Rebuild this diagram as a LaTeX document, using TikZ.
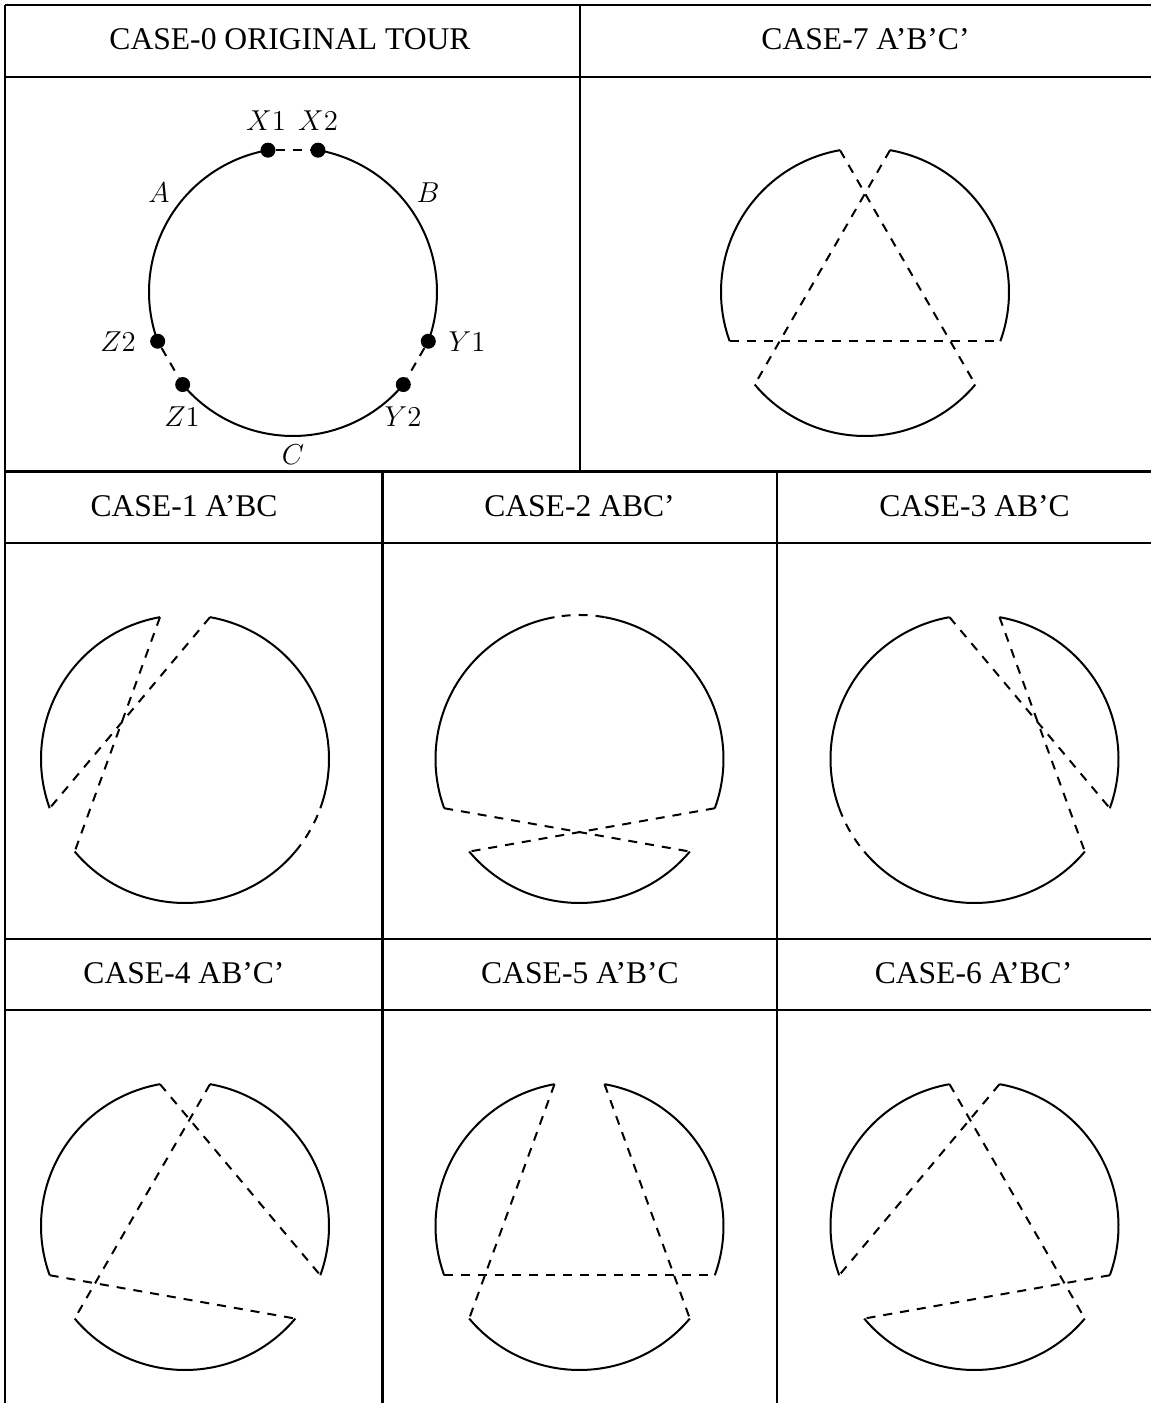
\documentclass[tikz,border=0pt]{standalone}
\usepackage[no-math]{fontspec}
\setmainfont{Liberation Serif}
\def\R{144}
% name, cx, cy : end points of the three tour segments
\newcommand\mkpts[3]{%
  \path (#2,#3) coordinate (#1c)
    +(100:\R) coordinate (#1x1) +(80:\R) coordinate (#1x2)
    +(-20:\R) coordinate (#1y1) +(-40:\R) coordinate (#1y2)
    +(220:\R) coordinate (#1z1) +(200:\R) coordinate (#1z2);}
\newcommand\mkarcs[1]{%
  \draw[seg] (#1x1) arc[start angle=100,end angle=200,radius=\R];
  \draw[seg] (#1y1) arc[start angle=-20,end angle=80,radius=\R];
  \draw[seg] (#1z1) arc[start angle=220,end angle=320,radius=\R];}
\begin{document}
\begin{tikzpicture}[x=0.5pt,y=0.5pt,
  grid/.style={line width=1.1pt},
  seg/.style={line width=1pt},
  link/.style={line width=1pt, dash pattern=on 4.5pt off 4pt},
  head/.style={anchor=base, font=\fontsize{15.8}{18}\selectfont, inner sep=0pt},
  lab/.style={anchor=base, font=\fontsize{14.3}{16}\selectfont, inner sep=0pt},
  dot/.style={circle, fill=black, inner sep=0pt, minimum size=7.5pt}]
\useasboundingbox (0,0) rectangle (1151,1403);
% ---------------- table ----------------
\draw[grid] (5,1398) -- (1151,1398);
\draw[grid] (5,1326) -- (1151,1326);
\draw[grid] (5,931.5) -- (1151,931.5);
\draw[grid] (5,860) -- (1151,860);
\draw[grid] (5,464) -- (1151,464);
\draw[grid] (5,393) -- (1151,393);
\draw[grid] (5,1398) -- (5,0);
\draw[grid] (580,1398) -- (580,931.5);
\draw[grid] (382.5,931.5) -- (382.5,0);
\draw[grid] (777,931.5) -- (777,0);
% ---------------- headers ----------------
\node[head] (h0) at (290,1353) {CASE-0 ORIGINAL TOUR};
\node[head] (h7) at (865.5,1353) {CASE-7 A'B'C'};
\node[head] (h1) at (184,886) {CASE-1 A'BC};
\node[head] (h2) at (579.5,886) {CASE-2 ABC'};
\node[head] (h3) at (974.5,886) {CASE-3 AB'C};
\node[head] (h4) at (184,419.5) {CASE-4 AB'C'};
\node[head] (h5) at (580,419.5) {CASE-5 A'B'C};
\node[head] (h6) at (973.5,419.5) {CASE-6 A'BC'};
% ---------------- case 0 ----------------
\mkpts{k0}{293}{1111}
\mkarcs{k0}
\node[dot] (X1) at (k0x1) {};
\node[dot] (X2) at (k0x2) {};
\node[dot] (Y1) at (k0y1) {};
\node[dot] (Y2) at (k0y2) {};
\node[dot] (Z1) at (k0z1) {};
\node[dot] (Z2) at (k0z2) {};
\draw[link] (X1) -- (X2);
\draw[link] (Y1) -- (Y2);
\draw[link] (Z2) -- (Z1);
\node[lab] (lX1) at (266,1272) {$X1$};
\node[lab] (lX2) at (318,1272) {$X2$};
\node[lab] (lA) at (159,1200) {$A$};
\node[lab] (lB) at (428,1200) {$B$};
\node[lab] (lZ2) at (118,1051) {$Z2$};
\node[lab] (lY1) at (467,1051) {$Y1$};
\node[lab] (lZ1) at (182,976) {$Z1$};
\node[lab] (lY2) at (403,976) {$Y2$};
\node[lab] (lC) at (293,938) {$C$};
% ---------------- case 7 ----------------
\mkpts{k7}{865}{1111}
\mkarcs{k7}
\draw[link] (k7x1) -- (k7y2);
\draw[link] (k7x2) -- (k7z1);
\draw[link] (k7z2) -- (k7y1);
% ---------------- case 1 ----------------
\mkpts{k1}{185}{644}
\mkarcs{k1}
\draw[link] (k1x1) -- (k1z1);
\draw[link] (k1x2) -- (k1z2);
\draw[link] (k1y2) arc[start angle=-40,end angle=-20,radius=\R];
% ---------------- case 2 ----------------
\mkpts{k2}{579.5}{644}
\mkarcs{k2}
\draw[link] (k2x2) arc[start angle=80,end angle=100,radius=\R];
\draw[link] (k2z2) -- (k2y2);
\draw[link] (k2y1) -- (k2z1);
% ---------------- case 3 ----------------
\mkpts{k3}{974.5}{644}
\mkarcs{k3}
\draw[link] (k3x1) -- (k3y1);
\draw[link] (k3x2) -- (k3y2);
\draw[link] (k3z2) arc[start angle=200,end angle=220,radius=\R];
% ---------------- case 4 ----------------
\mkpts{k4}{185}{177}
\mkarcs{k4}
\draw[link] (k4x1) -- (k4y1);
\draw[link] (k4x2) -- (k4z1);
\draw[link] (k4z2) -- (k4y2);
% ---------------- case 5 ----------------
\mkpts{k5}{579.5}{177}
\mkarcs{k5}
\draw[link] (k5x1) -- (k5z1);
\draw[link] (k5x2) -- (k5y2);
\draw[link] (k5z2) -- (k5y1);
% ---------------- case 6 ----------------
\mkpts{k6}{974.5}{177}
\mkarcs{k6}
\draw[link] (k6x1) -- (k6y2);
\draw[link] (k6x2) -- (k6z2);
\draw[link] (k6y1) -- (k6z1);
\end{tikzpicture}
\end{document}
